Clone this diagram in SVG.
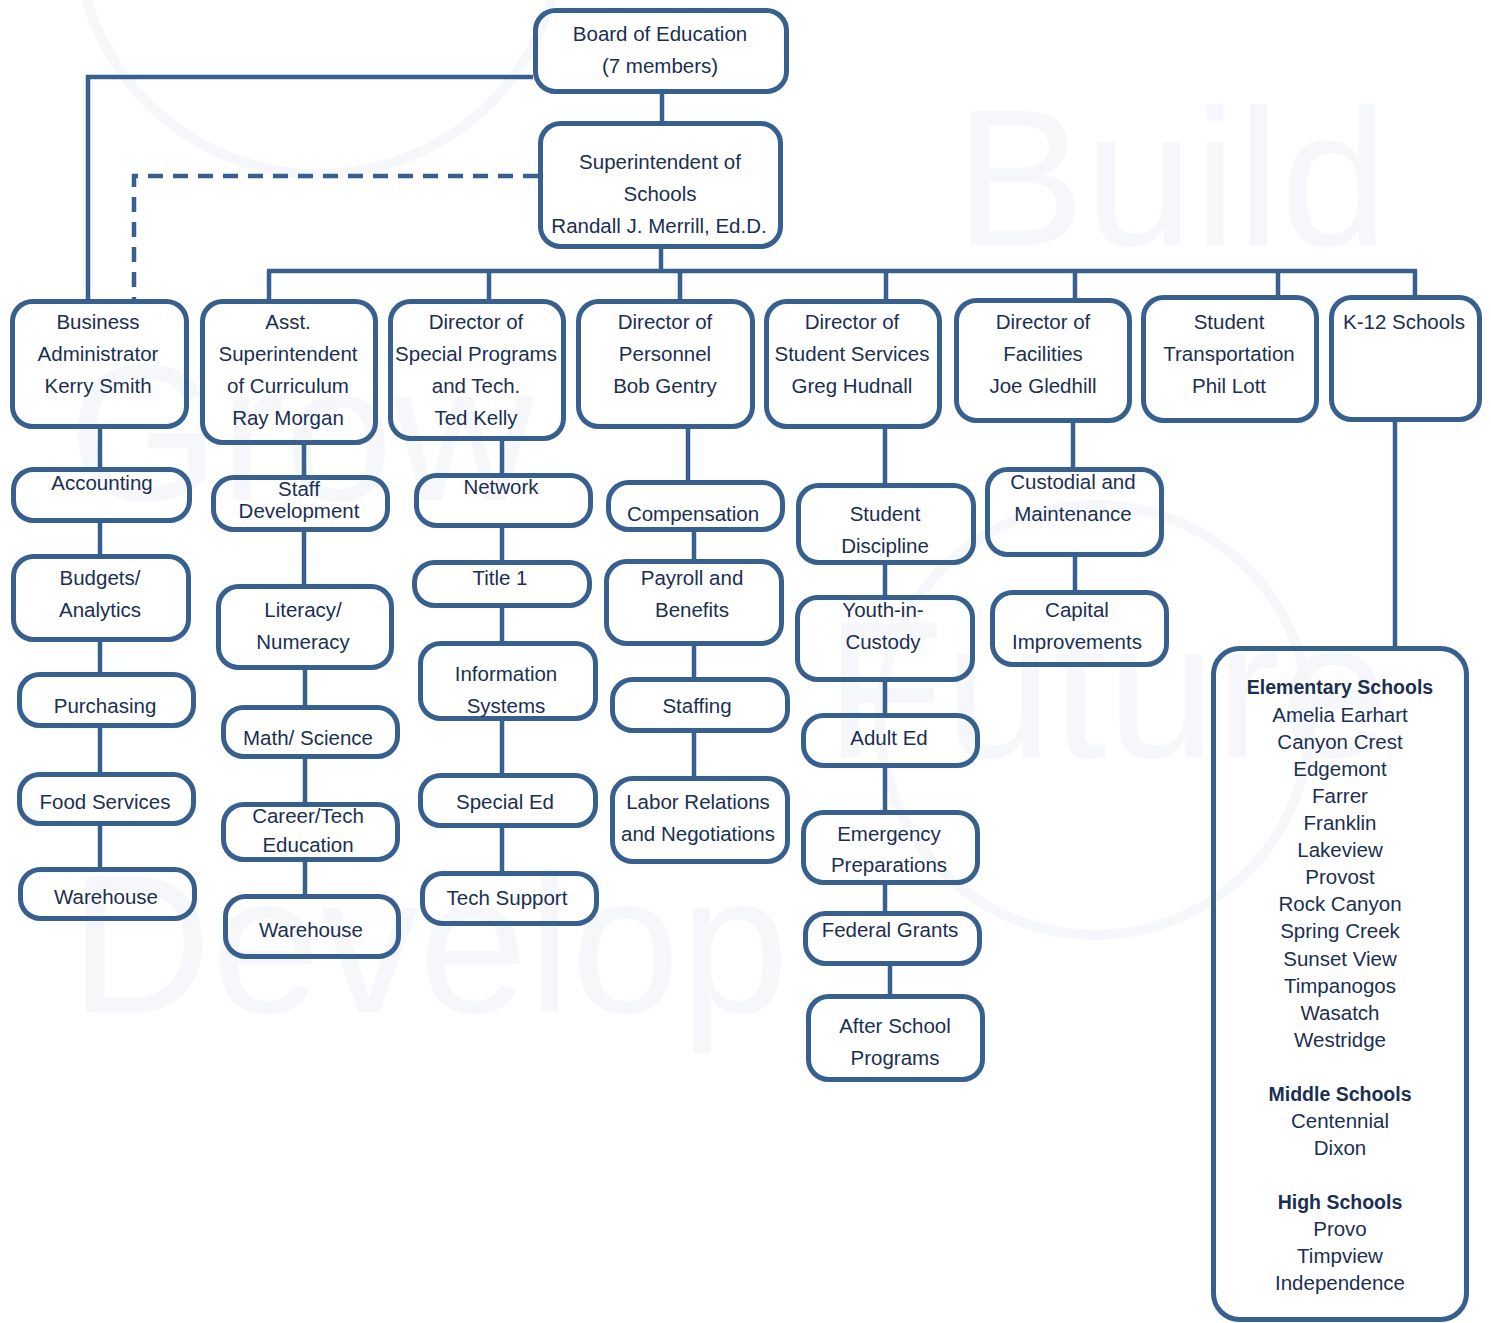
<svg xmlns="http://www.w3.org/2000/svg" width="1491" height="1323" viewBox="0 0 1491 1323">
<style>
.bg{fill:#ffffff}
.wm{fill:#f6f7fa;font-family:"Liberation Sans",Arial,sans-serif}
.wmc{fill:none;stroke:#f6f7fa;stroke-width:10}
.box{fill:none;stroke:#38608f;stroke-width:5}
.ln{fill:none;stroke:#38608f;stroke-width:4.5}
.dash{fill:none;stroke:#38608f;stroke-width:4.5;stroke-dasharray:15 10}
text.t{font-family:"Liberation Sans",Arial,sans-serif;font-size:20.5px;fill:#1b2f52;text-anchor:middle}
text.b{font-weight:bold;font-size:19.5px}
</style>
<rect class="bg" x="0" y="0" width="1491" height="1323"/>
<g id="watermark">
<circle class="wmc" cx="319" cy="-68" r="242"/>
<circle class="wmc" cx="1095" cy="720" r="215"/>
<text class="wm" x="955" y="245" font-size="195">Build</text>
<text class="wm" x="68" y="500" font-size="195">Grow</text>
<text class="wm" x="825" y="757" font-size="195">Future</text>
<text class="wm" x="70" y="1012" font-size="196">Develop</text>
</g>
<g id="connectors">
<path class="ln" d="M662 93V122"/>
<path class="ln" d="M533 77H88V300"/>
<path class="dash" d="M538 176H134V300"/>
<path class="ln" d="M661 248V271"/>
<path class="ln" d="M267 271H1417"/>
<path class="ln" d="M269 271V300M489 271V300M680 271V300M886 271V300M1075 271V300M1278 271V296M1415 271V295"/>
<path class="ln" d="M100 428V468M100 521V556M100 640V674M100 727V772M100 825V867"/>
<path class="ln" d="M304 444V477M304 532V584M305 670V705M305 758V802M305 862V894"/>
<path class="ln" d="M502 438V473M502 527V561M502 607V641M502 720V773M502 827V872"/>
<path class="ln" d="M688 428V480M694 531V560M694 645V678M694 732V777"/>
<path class="ln" d="M885 428V483M885 564V595M885 682V713M885 768V812M885 885V912M890 966V995"/>
<path class="ln" d="M1073 422V468M1075 557V590"/>
<path class="ln" d="M1395 420V646"/>
</g>
<g id="board"><rect class="box" x="535.5" y="10.5" width="251" height="81" rx="20"/>
<text class="t" x="660" y="41">Board of Education</text><text class="t" x="660" y="73">(7 members)</text></g>
<g id="superintendent"><rect class="box" x="540.5" y="123.5" width="240" height="123" rx="20"/>
<text class="t" x="660" y="169">Superintendent of</text><text class="t" x="660" y="201">Schools</text><text class="t" x="659" y="233">Randall J. Merrill, Ed.D.</text></g>
<g id="business"><rect class="box" x="12.5" y="301.5" width="174" height="125" rx="20"/>
<text class="t" x="98" y="329">Business</text><text class="t" x="98" y="361">Administrator</text><text class="t" x="98" y="393">Kerry Smith</text></g>
<g id="asst-supt"><rect class="box" x="202.5" y="301.5" width="173" height="141" rx="20"/>
<text class="t" x="288" y="329">Asst.</text><text class="t" x="288" y="361">Superintendent</text><text class="t" x="288" y="393">of Curriculum</text><text class="t" x="288" y="425">Ray Morgan</text></g>
<g id="special-programs"><rect class="box" x="390.5" y="301.5" width="173" height="137" rx="20"/>
<text class="t" x="476" y="329">Director of</text><text class="t" x="476" y="361">Special Programs</text><text class="t" x="476" y="393">and Tech.</text><text class="t" x="476" y="425">Ted Kelly</text></g>
<g id="personnel"><rect class="box" x="578.5" y="301.5" width="174" height="125" rx="20"/>
<text class="t" x="665" y="329">Director of</text><text class="t" x="665" y="361">Personnel</text><text class="t" x="665" y="393">Bob Gentry</text></g>
<g id="student-services"><rect class="box" x="766.5" y="301.5" width="173" height="125" rx="20"/>
<text class="t" x="852" y="329">Director of</text><text class="t" x="852" y="361">Student Services</text><text class="t" x="852" y="393">Greg Hudnall</text></g>
<g id="facilities"><rect class="box" x="956.5" y="300.5" width="173" height="120" rx="20"/>
<text class="t" x="1043" y="329">Director of</text><text class="t" x="1043" y="361">Facilities</text><text class="t" x="1043" y="393">Joe Gledhill</text></g>
<g id="transportation"><rect class="box" x="1143.5" y="297.5" width="173" height="123" rx="20"/>
<text class="t" x="1229" y="329">Student</text><text class="t" x="1229" y="361">Transportation</text><text class="t" x="1229" y="393">Phil Lott</text></g>
<g id="k12"><rect class="box" x="1331.5" y="297.5" width="148" height="122" rx="20"/>
<text class="t" x="1404" y="329">K-12 Schools</text></g>
<g id="accounting"><rect class="box" x="13.5" y="469.5" width="176" height="51" rx="20"/><text class="t" x="102" y="490">Accounting</text></g>
<g id="budgets"><rect class="box" x="13.5" y="556.5" width="175" height="83" rx="20"/><text class="t" x="100" y="585">Budgets/</text><text class="t" x="100" y="617">Analytics</text></g>
<g id="purchasing"><rect class="box" x="19.5" y="674.5" width="174" height="51" rx="20"/><text class="t" x="105" y="713">Purchasing</text></g>
<g id="food-services"><rect class="box" x="19.5" y="774.5" width="174" height="49" rx="20"/><text class="t" x="105" y="809">Food Services</text></g>
<g id="warehouse-1"><rect class="box" x="20.5" y="869.5" width="174" height="49" rx="20"/><text class="t" x="106" y="904">Warehouse</text></g>
<g id="staff-dev"><rect class="box" x="213.5" y="477.5" width="174" height="52" rx="20"/><text class="t" x="299" y="496">Staff</text><text class="t" x="299" y="518">Development</text></g>
<g id="literacy"><rect class="box" x="218.5" y="586.5" width="173" height="81" rx="20"/><text class="t" x="303" y="617">Literacy/</text><text class="t" x="303" y="649">Numeracy</text></g>
<g id="math-science"><rect class="box" x="223.5" y="707.5" width="174" height="49" rx="20"/><text class="t" x="308" y="745">Math/ Science</text></g>
<g id="career-tech"><rect class="box" x="223.5" y="804.5" width="174" height="55" rx="20"/><text class="t" x="308" y="823">Career/Tech</text><text class="t" x="308" y="852">Education</text></g>
<g id="warehouse-2"><rect class="box" x="225.5" y="896.5" width="173" height="60" rx="20"/><text class="t" x="311" y="937">Warehouse</text></g>
<g id="network"><rect class="box" x="416.5" y="475.5" width="174" height="50" rx="20"/><text class="t" x="501" y="494">Network</text></g>
<g id="title1"><rect class="box" x="414.5" y="562.5" width="175" height="43" rx="20"/><text class="t" x="500" y="585">Title 1</text></g>
<g id="info-systems"><rect class="box" x="420.5" y="643.5" width="175" height="75" rx="20"/><text class="t" x="506" y="681">Information</text><text class="t" x="506" y="713">Systems</text></g>
<g id="special-ed"><rect class="box" x="420.5" y="775.5" width="175" height="50" rx="20"/><text class="t" x="505" y="809">Special Ed</text></g>
<g id="tech-support"><rect class="box" x="422.5" y="873.5" width="174" height="50" rx="20"/><text class="t" x="507" y="905">Tech Support</text></g>
<g id="compensation"><rect class="box" x="608.5" y="482.5" width="174" height="47" rx="20"/><text class="t" x="693" y="521">Compensation</text></g>
<g id="payroll"><rect class="box" x="606.5" y="561.5" width="175" height="82" rx="20"/><text class="t" x="692" y="585">Payroll and</text><text class="t" x="692" y="617">Benefits</text></g>
<g id="staffing"><rect class="box" x="612.5" y="679.5" width="175" height="51" rx="20"/><text class="t" x="697" y="713">Staffing</text></g>
<g id="labor"><rect class="box" x="612.5" y="778.5" width="175" height="83" rx="20"/><text class="t" x="698" y="809">Labor Relations</text><text class="t" x="698" y="841">and Negotiations</text></g>
<g id="discipline"><rect class="box" x="798.5" y="485.5" width="175" height="77" rx="20"/><text class="t" x="885" y="521">Student</text><text class="t" x="885" y="553">Discipline</text></g>
<g id="youth"><rect class="box" x="797.5" y="597.5" width="175" height="82" rx="20"/><text class="t" x="883" y="617">Youth-in-</text><text class="t" x="883" y="649">Custody</text></g>
<g id="adult-ed"><rect class="box" x="803.5" y="715.5" width="174" height="50" rx="20"/><text class="t" x="889" y="745">Adult Ed</text></g>
<g id="emergency"><rect class="box" x="803.5" y="812.5" width="174" height="70" rx="20"/><text class="t" x="889" y="841">Emergency</text><text class="t" x="889" y="872">Preparations</text></g>
<g id="federal-grants"><rect class="box" x="805.5" y="913.5" width="174" height="50" rx="20"/><text class="t" x="890" y="937">Federal Grants</text></g>
<g id="after-school"><rect class="box" x="808.5" y="996.5" width="174" height="83" rx="20"/><text class="t" x="895" y="1033">After School</text><text class="t" x="895" y="1065">Programs</text></g>
<g id="custodial"><rect class="box" x="987.5" y="469.5" width="174" height="85" rx="20"/><text class="t" x="1073" y="489">Custodial and</text><text class="t" x="1073" y="521">Maintenance</text></g>
<g id="capital"><rect class="box" x="992.5" y="592.5" width="174" height="72" rx="20"/><text class="t" x="1077" y="617">Capital</text><text class="t" x="1077" y="649">Improvements</text></g>
<g id="schools"><rect class="box" x="1213.5" y="648.5" width="253" height="671" rx="26"/>
<text class="t b" x="1340" y="694">Elementary Schools</text>
<text class="t" x="1340" y="722">Amelia Earhart</text>
<text class="t" x="1340" y="749">Canyon Crest</text>
<text class="t" x="1340" y="776">Edgemont</text>
<text class="t" x="1340" y="803">Farrer</text>
<text class="t" x="1340" y="830">Franklin</text>
<text class="t" x="1340" y="857">Lakeview</text>
<text class="t" x="1340" y="884">Provost</text>
<text class="t" x="1340" y="911">Rock Canyon</text>
<text class="t" x="1340" y="938">Spring Creek</text>
<text class="t" x="1340" y="966">Sunset View</text>
<text class="t" x="1340" y="993">Timpanogos</text>
<text class="t" x="1340" y="1020">Wasatch</text>
<text class="t" x="1340" y="1047">Westridge</text>
<text class="t b" x="1340" y="1101">Middle Schools</text>
<text class="t" x="1340" y="1128">Centennial</text>
<text class="t" x="1340" y="1155">Dixon</text>
<text class="t b" x="1340" y="1209">High Schools</text>
<text class="t" x="1340" y="1236">Provo</text>
<text class="t" x="1340" y="1263">Timpview</text>
<text class="t" x="1340" y="1290">Independence</text>
</g>
</svg>
